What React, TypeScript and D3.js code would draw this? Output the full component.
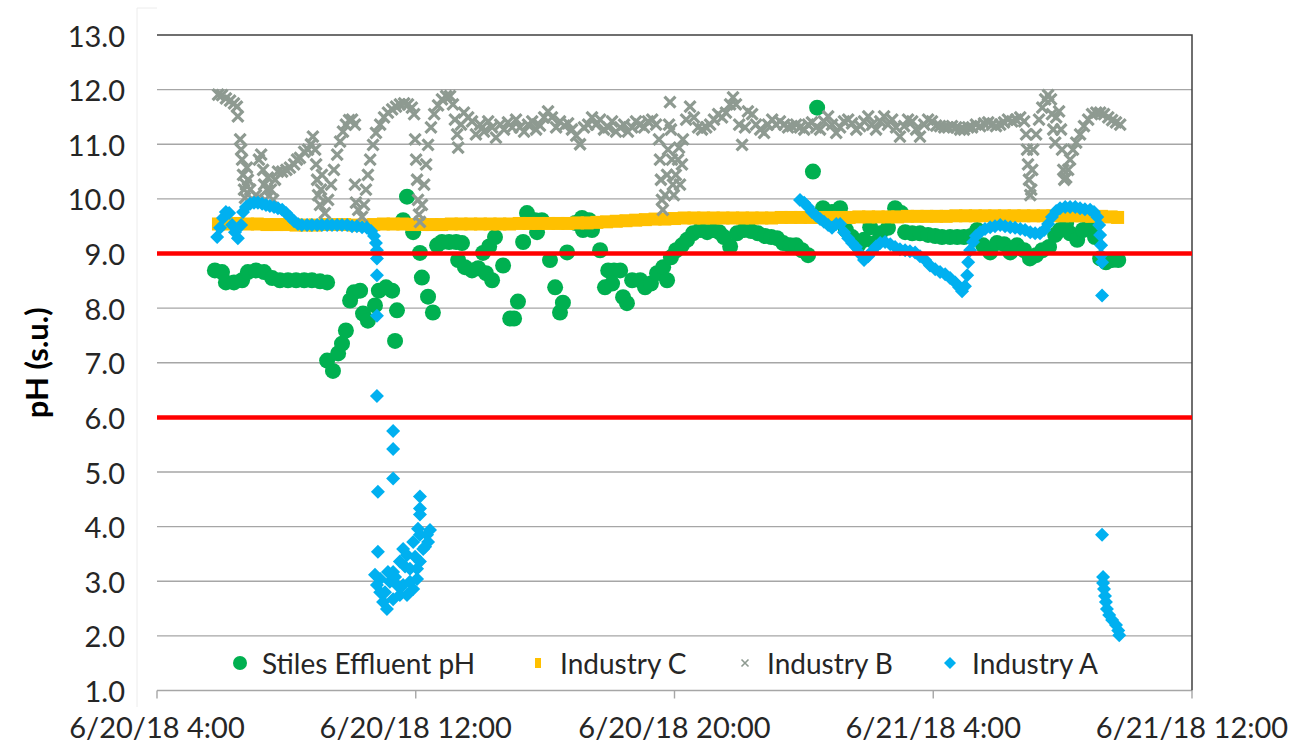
import { useEffect, useRef } from "react";
import * as d3 from "d3";

// hours after 6/20/18 4:00
const START = new Date(2018, 5, 20, 4, 0);
const xTickHours = [0, 8, 16, 24, 32];
const yTicks = [1, 2, 3, 4, 5, 6, 7, 8, 9, 10, 11, 12, 13];
const limitLines = [9.0, 6.0];
const legendLabels = ["Stiles Effluent pH", "Industry C", "Industry B", "Industry A"];

// [hour, pH]
const stilesEffluent = [
  [1.79, 8.69], [2.01, 8.66], [2.13, 8.47], [2.38, 8.47], [2.63, 8.51], [2.81, 8.66], [3.06, 8.69], [3.31, 8.66],
  [3.56, 8.55], [3.8, 8.51], [4.05, 8.51], [4.3, 8.51], [4.55, 8.51], [4.79, 8.51], [5.04, 8.49], [5.26, 8.47],
  [5.26, 7.04], [5.44, 6.85], [5.6, 7.17], [5.72, 7.35], [5.84, 7.59], [5.97, 8.14], [6.09, 8.29], [6.28, 8.32],
  [6.37, 7.9], [6.52, 7.77], [6.74, 8.05], [6.86, 8.32], [7.08, 8.38], [7.27, 8.32], [7.42, 7.96], [7.36, 7.4],
  [7.61, 9.61], [7.73, 10.04], [7.92, 9.39], [8.13, 9.01], [8.19, 8.56], [8.38, 8.21], [8.53, 7.92], [8.66, 9.15],
  [8.81, 9.21], [9.03, 9.21], [9.25, 9.21], [9.43, 9.19], [9.31, 8.88], [9.52, 8.75], [9.74, 8.69], [9.93, 8.73],
  [10.08, 9.01], [10.27, 9.13], [10.45, 9.3], [10.7, 8.78], [10.17, 8.64], [10.36, 8.51], [10.92, 7.81], [11.04, 7.81],
  [11.16, 8.12], [11.32, 9.21], [11.44, 9.74], [11.69, 9.61], [11.9, 9.61], [11.75, 9.39], [12.15, 8.88], [12.31, 8.38],
  [12.46, 7.92], [12.55, 8.1], [12.68, 9.02], [12.93, 9.56], [13.14, 9.65], [13.36, 9.61], [13.17, 9.43], [13.45, 9.43],
  [13.7, 9.06], [13.85, 8.38], [13.95, 8.69], [14.13, 8.69], [14.07, 8.45], [14.32, 8.69], [14.41, 8.2], [14.53, 8.09],
  [14.69, 8.51], [14.94, 8.51], [15.09, 8.38], [15.27, 8.45], [15.46, 8.64], [15.65, 8.75], [15.77, 8.51], [15.89, 8.93],
  [16.05, 9.06], [16.23, 9.15], [16.39, 9.25], [16.57, 9.37], [16.79, 9.43], [17.01, 9.39], [17.19, 9.43], [17.38, 9.39],
  [17.53, 9.3], [17.72, 9.13], [17.93, 9.37], [18.15, 9.43], [18.37, 9.41], [18.58, 9.37], [18.8, 9.32], [18.99, 9.3],
  [19.17, 9.28], [19.36, 9.19], [19.57, 9.15], [19.76, 9.15], [19.94, 9.06], [20.13, 8.97], [20.28, 10.5], [20.41, 11.67],
  [20.59, 9.83], [20.87, 9.76], [21.12, 9.83], [21.3, 9.43], [21.49, 9.3], [21.68, 9.15], [21.86, 9.25], [22.05, 9.48],
  [22.2, 9.19], [22.36, 9.37], [22.6, 9.47], [22.82, 9.83], [23.01, 9.74], [23.13, 9.39], [23.35, 9.37], [23.59, 9.37],
  [23.84, 9.34], [24.06, 9.32], [24.27, 9.3], [24.52, 9.3], [24.74, 9.3], [24.95, 9.3], [25.17, 9.32], [25.36, 9.43],
  [25.54, 9.15], [25.76, 9.02], [25.97, 9.19], [26.19, 9.17], [26.38, 9.02], [26.59, 9.15], [26.81, 9.06], [26.99, 8.91],
  [27.18, 8.97], [27.37, 9.06], [27.58, 9.12], [27.77, 9.34], [27.92, 9.43], [28.11, 9.56], [28.23, 9.37], [28.45, 9.25],
  [28.63, 9.43], [28.82, 9.48], [29.0, 9.3], [29.16, 8.91], [29.34, 8.84], [29.53, 8.88], [29.72, 8.88],
];

const industryC = [
  [1.9, 9.54], [2.2, 9.54], [2.5, 9.55], [2.8, 9.54], [3.1, 9.54], [3.4, 9.53], [3.7, 9.53], [4.0, 9.53],
  [4.3, 9.52], [4.6, 9.52], [4.9, 9.52], [5.2, 9.53], [5.5, 9.53], [5.8, 9.53], [6.1, 9.52], [6.4, 9.52],
  [6.7, 9.53], [7.0, 9.54], [7.3, 9.54], [7.6, 9.54], [7.9, 9.53], [8.2, 9.53], [8.5, 9.53], [8.8, 9.53],
  [9.1, 9.54], [9.4, 9.54], [9.7, 9.54], [10.0, 9.54], [10.3, 9.54], [10.6, 9.54], [10.9, 9.54], [11.2, 9.55],
  [11.5, 9.55], [11.8, 9.55], [12.1, 9.55], [12.4, 9.55], [12.7, 9.55], [13.0, 9.56], [13.3, 9.56], [13.6, 9.57],
  [13.9, 9.58], [14.2, 9.59], [14.5, 9.6], [14.8, 9.61], [15.1, 9.62], [15.4, 9.63], [15.7, 9.63], [16.0, 9.64],
  [16.3, 9.65], [16.6, 9.65], [16.9, 9.65], [17.2, 9.65], [17.5, 9.65], [17.8, 9.65], [18.1, 9.65], [18.4, 9.65],
  [18.7, 9.65], [19.0, 9.65], [19.3, 9.66], [19.6, 9.66], [19.9, 9.66], [20.2, 9.66], [20.5, 9.66], [20.8, 9.66],
  [21.1, 9.66], [21.4, 9.66], [21.7, 9.67], [22.0, 9.67], [22.3, 9.67], [22.6, 9.67], [22.9, 9.67], [23.2, 9.68],
  [23.5, 9.68], [23.8, 9.68], [24.1, 9.68], [24.4, 9.68], [24.7, 9.69], [25.0, 9.69], [25.3, 9.69], [25.6, 9.69],
  [25.9, 9.69], [26.2, 9.69], [26.5, 9.69], [26.8, 9.69], [27.1, 9.69], [27.4, 9.69], [27.7, 9.69], [28.0, 9.69],
  [28.3, 9.69], [28.6, 9.69], [28.9, 9.68], [29.2, 9.68], [29.5, 9.67], [29.7, 9.66],
];

const industryB = [
  [1.89, 11.91], [2.01, 11.9], [2.13, 11.84], [2.26, 11.8], [2.38, 11.75], [2.47, 11.69], [2.5, 11.51],
  [2.57, 11.09], [2.6, 10.9], [2.63, 10.72], [2.66, 10.44], [2.69, 10.17], [2.72, 10.02], [2.75, 10.26], [2.78, 10.57],
  [2.81, 10.35], [2.88, 10.17], [2.97, 9.98], [3.06, 10.07], [3.15, 10.72], [3.22, 10.81], [3.28, 10.53], [3.31, 10.26],
  [3.34, 9.98], [3.4, 10.17], [3.43, 10.39], [3.52, 10.17], [3.59, 9.98], [3.65, 10.35], [3.74, 10.5], [3.87, 10.5],
  [4.0, 10.53], [4.11, 10.57], [4.24, 10.63], [4.33, 10.72], [4.42, 10.75], [4.55, 10.86], [4.67, 10.9], [4.76, 11.0],
  [4.82, 11.14], [4.89, 10.9], [4.92, 10.63], [4.95, 10.35], [4.98, 10.07], [5.04, 9.89], [5.07, 10.17], [5.1, 10.44],
  [5.19, 9.74], [5.29, 9.98], [5.38, 10.26], [5.47, 10.53], [5.57, 10.81], [5.66, 11.05], [5.75, 11.23], [5.84, 11.36],
  [5.94, 11.44], [6.03, 11.45], [6.12, 11.36], [6.12, 10.26], [6.15, 9.93], [6.22, 9.8], [6.34, 9.67], [6.4, 9.89],
  [6.46, 10.17], [6.52, 10.44], [6.59, 10.72], [6.68, 10.99], [6.77, 11.21], [6.9, 11.36], [7.02, 11.49], [7.14, 11.58],
  [7.27, 11.64], [7.39, 11.69], [7.51, 11.73], [7.64, 11.75], [7.76, 11.73], [7.88, 11.67], [7.95, 11.55], [7.98, 11.09],
  [8.01, 10.72], [8.04, 10.35], [8.07, 9.98], [8.1, 9.71], [8.13, 9.58], [8.19, 9.89], [8.26, 10.26], [8.32, 10.63],
  [8.38, 10.99], [8.47, 11.31], [8.57, 11.55], [8.69, 11.71], [8.81, 11.82], [8.94, 11.88], [9.06, 11.88], [9.15, 11.73],
  [9.21, 11.45], [9.28, 11.18], [9.31, 10.94], [9.4, 11.36], [9.49, 11.58], [9.62, 11.49], [9.74, 11.42], [9.86, 11.18],
  [9.99, 11.36], [10.11, 11.23], [10.24, 11.42], [10.36, 11.31], [10.48, 11.12], [10.61, 11.36], [10.73, 11.27], [10.85, 11.4],
  [10.98, 11.31], [11.1, 11.45], [11.22, 11.31], [11.35, 11.23], [11.47, 11.36], [11.6, 11.42], [11.72, 11.27], [11.84, 11.34],
  [11.97, 11.49], [12.09, 11.6], [12.21, 11.49], [12.34, 11.31], [12.46, 11.42], [12.59, 11.34], [12.71, 11.38], [12.83, 11.27],
  [12.96, 11.16], [13.08, 11.0], [13.2, 11.31], [13.33, 11.36], [13.45, 11.49], [13.57, 11.36], [13.7, 11.45], [13.82, 11.27],
  [13.95, 11.31], [14.07, 11.42], [14.19, 11.23], [14.32, 11.31], [14.44, 11.36], [14.56, 11.23], [14.69, 11.31], [14.81, 11.42],
  [14.93, 11.36], [15.06, 11.31], [15.18, 11.42], [15.31, 11.45], [15.43, 11.36], [15.52, 11.09], [15.55, 10.72], [15.58, 10.35],
  [15.61, 9.98], [15.64, 9.8], [15.71, 10.07], [15.77, 10.44], [15.8, 10.9], [15.83, 11.36], [15.86, 11.77], [15.89, 11.27],
  [15.92, 10.72], [15.95, 10.26], [15.98, 10.07], [16.04, 10.44], [16.11, 10.72], [16.14, 10.94], [16.17, 10.26], [16.23, 10.63],
  [16.26, 11.09], [16.36, 11.45], [16.48, 11.69], [16.6, 11.49], [16.73, 11.31], [16.85, 11.27], [16.98, 11.31], [17.1, 11.36],
  [17.22, 11.45], [17.35, 11.55], [17.47, 11.49], [17.59, 11.58], [17.72, 11.73], [17.81, 11.86], [17.9, 11.73], [18.0, 11.36],
  [18.09, 10.99], [18.18, 11.31], [18.27, 11.6], [18.4, 11.55], [18.52, 11.36], [18.65, 11.27], [18.77, 11.21], [18.89, 11.36],
  [19.02, 11.45], [19.14, 11.36], [19.26, 11.42], [19.39, 11.36], [19.51, 11.31], [19.63, 11.33], [19.76, 11.36], [19.88, 11.31],
  [20.01, 11.27], [20.13, 11.36], [20.25, 11.4], [20.38, 11.31], [20.5, 11.27], [20.62, 11.42], [20.75, 11.51], [20.87, 11.36],
  [21.0, 11.21], [21.12, 11.31], [21.24, 11.42], [21.37, 11.45], [21.49, 11.38], [21.62, 11.27], [21.74, 11.33], [21.86, 11.42],
  [21.99, 11.51], [22.11, 11.36], [22.23, 11.27], [22.36, 11.42], [22.48, 11.51], [22.6, 11.36], [22.73, 11.45], [22.85, 11.31],
  [22.97, 11.14], [23.1, 11.33], [23.22, 11.45], [23.35, 11.42], [23.47, 11.27], [23.59, 11.14], [23.72, 11.36], [23.84, 11.45],
  [23.96, 11.42], [24.09, 11.34], [24.21, 11.33], [24.34, 11.31], [24.46, 11.31], [24.58, 11.33], [24.71, 11.31], [24.83, 11.27],
  [24.95, 11.27], [25.08, 11.31], [25.2, 11.31], [25.32, 11.36], [25.45, 11.33], [25.57, 11.38], [25.7, 11.4], [25.82, 11.36],
  [25.94, 11.33], [26.07, 11.36], [26.19, 11.4], [26.31, 11.45], [26.44, 11.42], [26.56, 11.45], [26.69, 11.49], [26.81, 11.42],
  [26.87, 11.18], [26.9, 10.9], [26.93, 10.63], [26.96, 10.35], [27.0, 10.07], [27.03, 10.17], [27.06, 10.53], [27.09, 10.9],
  [27.18, 11.18], [27.27, 11.45], [27.37, 11.67], [27.46, 11.82], [27.55, 11.9], [27.64, 11.82], [27.67, 11.55], [27.71, 11.27],
  [27.77, 11.03], [27.8, 11.49], [27.89, 11.6], [27.95, 11.27], [27.98, 10.9], [28.02, 10.53], [28.05, 10.35], [28.11, 10.39],
  [28.17, 10.53], [28.23, 10.72], [28.32, 10.9], [28.42, 11.03], [28.54, 11.18], [28.66, 11.33], [28.79, 11.45], [28.91, 11.55],
  [29.04, 11.58], [29.16, 11.58], [29.28, 11.55], [29.41, 11.49], [29.53, 11.44], [29.65, 11.4], [29.78, 11.36],
];

const industryA = [
  [1.86, 9.3], [1.95, 9.47], [2.04, 9.65], [2.13, 9.76], [2.23, 9.74], [2.32, 9.52], [2.41, 9.39], [2.5, 9.28],
  [2.6, 9.52], [2.66, 9.76], [2.75, 9.85], [2.88, 9.91], [3.0, 9.93], [3.12, 9.93], [3.25, 9.91], [3.37, 9.89],
  [3.49, 9.87], [3.62, 9.85], [3.74, 9.83], [3.87, 9.8], [3.99, 9.74], [4.11, 9.67], [4.24, 9.59], [4.36, 9.54],
  [4.48, 9.52], [4.64, 9.52], [4.79, 9.52], [4.95, 9.52], [5.1, 9.52], [5.26, 9.52], [5.41, 9.52], [5.57, 9.52],
  [5.72, 9.52], [5.88, 9.52], [6.03, 9.5], [6.18, 9.5], [6.34, 9.48], [6.49, 9.47], [6.62, 9.41], [6.71, 9.32],
  [6.77, 9.19], [6.8, 9.06], [6.8, 8.91], [6.8, 8.6], [6.8, 7.86], [6.8, 6.39], [7.3, 5.75], [7.3, 5.42],
  [7.3, 4.88], [6.83, 4.64], [8.13, 4.55], [8.13, 4.33], [8.13, 4.22], [8.07, 3.96], [6.83, 3.54], [6.74, 3.12],
  [6.8, 2.93], [6.9, 3.04], [6.9, 2.8], [6.99, 2.62], [7.11, 2.49], [7.2, 2.99], [7.3, 2.67], [7.3, 3.17],
  [7.42, 2.93], [7.51, 2.75], [7.51, 3.36], [7.61, 3.59], [7.61, 2.93], [7.73, 3.48], [7.73, 2.75], [7.82, 3.23],
  [7.82, 2.99], [7.92, 2.86], [7.92, 3.72], [8.04, 3.23], [8.04, 3.04], [8.13, 3.36], [8.13, 3.85], [8.23, 3.59],
  [8.35, 3.85], [8.38, 3.72], [7.05, 2.8], [7.36, 3.08], [7.67, 3.27], [7.98, 3.45], [8.29, 3.63], [7.14, 3.17],
  [8.44, 3.94],
  [19.88, 9.98], [20.01, 9.93], [20.13, 9.85], [20.25, 9.76], [20.38, 9.69], [20.5, 9.63], [20.62, 9.58], [20.75, 9.52],
  [20.87, 9.47], [21.0, 9.54], [21.12, 9.54], [21.24, 9.39], [21.37, 9.28], [21.49, 9.19], [21.61, 9.12], [21.74, 8.99],
  [21.86, 8.88], [21.99, 8.95], [22.11, 9.04], [22.23, 9.13], [22.36, 9.19], [22.51, 9.21], [22.67, 9.17], [22.82, 9.12],
  [22.97, 9.08], [23.13, 9.06], [23.28, 9.04], [23.44, 9.02], [23.59, 8.95], [23.75, 8.88], [23.9, 8.78], [24.06, 8.71],
  [24.21, 8.66], [24.37, 8.62], [24.52, 8.55], [24.68, 8.47], [24.8, 8.38], [24.89, 8.31], [24.98, 8.4], [25.05, 8.6],
  [25.08, 8.84], [25.14, 9.06], [25.23, 9.21], [25.32, 9.32], [25.45, 9.39], [25.6, 9.45], [25.76, 9.48], [25.91, 9.5],
  [26.07, 9.52], [26.22, 9.5], [26.38, 9.48], [26.53, 9.47], [26.69, 9.45], [26.84, 9.43], [27.0, 9.39], [27.15, 9.37],
  [27.3, 9.37], [27.43, 9.43], [27.55, 9.54], [27.67, 9.67], [27.8, 9.78], [27.92, 9.83], [28.08, 9.85], [28.23, 9.85],
  [28.39, 9.85], [28.54, 9.83], [28.69, 9.81], [28.85, 9.8], [28.97, 9.76], [29.07, 9.67], [29.13, 9.52], [29.16, 9.34],
  [29.19, 9.15], [29.19, 8.97], [29.22, 8.84], [29.22, 8.23], [29.22, 3.85], [29.25, 3.08], [29.25, 2.97], [29.28, 2.86],
  [29.31, 2.73], [29.34, 2.62], [29.37, 2.49], [29.44, 2.38], [29.53, 2.29], [29.65, 2.2], [29.72, 2.1], [29.75, 2.01],
];

const W = 1302;
const H = 748;
const FONT = "Lato, 'Open Sans', sans-serif";
const GREEN = "#00b050";
const ORANGE = "#ffc000";
const GRAY = "#8e9a91";
const BLUE = "#00b0f0";

const toDate = (h) => new Date(START.getTime() + h * 3600 * 1000);

const App = () => {
  const ref = useRef(null);

  useEffect(() => {
    const svg = d3.select(ref.current);
    svg.selectAll("*").remove();

    const margin = { top: 35, right: 110, bottom: 57.5, left: 157 };
    const x = d3
      .scaleTime()
      .domain([toDate(0), toDate(32)])
      .range([margin.left, W - margin.right]);
    const y = d3
      .scaleLinear()
      .domain([1, 13])
      .range([H - margin.bottom, margin.top]);

    svg.append("rect").attr("width", W).attr("height", H).attr("fill", "#fff");

    // faint frame of the axis area
    svg
      .append("path")
      .attr("d", `M137,707V8H157`)
      .attr("fill", "none")
      .attr("stroke", "#ececec")
      .attr("stroke-width", 1);

    // gridlines
    svg
      .append("g")
      .selectAll("line")
      .data(yTicks.slice(0, -1))
      .join("line")
      .attr("x1", margin.left)
      .attr("x2", W - margin.right)
      .attr("y1", (d) => y(d))
      .attr("y2", (d) => y(d))
      .attr("stroke", "#a6a6a6")
      .attr("stroke-width", 1.4);

    // top + right border
    svg
      .append("path")
      .attr("d", `M${margin.left},${y(13)}H${W - margin.right}V${y(1)}`)
      .attr("fill", "none")
      .attr("stroke", "#404040")
      .attr("stroke-width", 1.5);

    // x tick marks + labels
    const fmt = d3.timeFormat("%-m/%-d/%y %-H:%M");
    const xt = svg.append("g");
    xt.selectAll("line")
      .data(xTickHours)
      .join("line")
      .attr("x1", (d) => x(toDate(d)))
      .attr("x2", (d) => x(toDate(d)))
      .attr("y1", y(1))
      .attr("y2", y(1) + 8)
      .attr("stroke", "#a6a6a6")
      .attr("stroke-width", 1.4);
    xt.selectAll("text")
      .data(xTickHours)
      .join("text")
      .attr("x", (d) => x(toDate(d)))
      .attr("y", 726)
      .attr("text-anchor", "middle")
      .attr("dominant-baseline", "central")
      .attr("font-family", FONT)
      .attr("font-size", 29)
      .attr("fill", "#262626")
      .text((d) => fmt(toDate(d)));

    // y labels
    svg
      .append("g")
      .selectAll("text")
      .data(yTicks)
      .join("text")
      .attr("x", 125)
      .attr("y", (d) => y(d))
      .attr("text-anchor", "end")
      .attr("dominant-baseline", "central")
      .attr("font-family", FONT)
      .attr("font-size", 29)
      .attr("fill", "#262626")
      .text((d) => d.toFixed(1));

    svg
      .append("text")
      .attr("transform", `translate(36,${y(7)}) rotate(-90)`)
      .attr("text-anchor", "middle")
      .attr("dominant-baseline", "central")
      .attr("font-family", FONT)
      .attr("font-weight", "bold")
      .attr("font-size", 31)
      .attr("fill", "#000")
      .text("pH (s.u.)");

    const px = (d) => x(toDate(d[0]));
    const py = (d) => y(d[1]);

    // Stiles effluent
    svg
      .append("g")
      .selectAll("circle")
      .data(stilesEffluent)
      .join("circle")
      .attr("cx", px)
      .attr("cy", py)
      .attr("r", 8)
      .attr("fill", GREEN);

    // Industry C
    svg
      .append("g")
      .selectAll("rect")
      .data(industryC)
      .join("rect")
      .attr("x", (d) => px(d) - 6.5)
      .attr("y", (d) => py(d) - 6.5)
      .attr("width", 13)
      .attr("height", 13)
      .attr("fill", ORANGE);

    // Industry B
    svg
      .append("g")
      .selectAll("path")
      .data(industryB)
      .join("path")
      .attr("transform", (d) => `translate(${px(d)},${py(d)})`)
      .attr("d", "M-5.5,-5.5L5.5,5.5M5.5,-5.5L-5.5,5.5")
      .attr("stroke", GRAY)
      .attr("stroke-width", 3.2)
      .attr("fill", "none");

    // Industry A
    svg
      .append("g")
      .selectAll("path")
      .data(industryA)
      .join("path")
      .attr("transform", (d) => `translate(${px(d)},${py(d)})`)
      .attr("d", "M0,-7L7,0L0,7L-7,0Z")
      .attr("fill", BLUE);

    // limit lines
    svg
      .append("g")
      .selectAll("line")
      .data(limitLines)
      .join("line")
      .attr("x1", margin.left)
      .attr("x2", W - margin.right)
      .attr("y1", (d) => y(d))
      .attr("y2", (d) => y(d))
      .attr("stroke", "#ff0000")
      .attr("stroke-width", 4.5);

    // legend
    const legendX = [240, 538, 745, 950];
    const lg = svg.append("g").attr("transform", "translate(0,663)");
    legendLabels.forEach((label, i) => {
      const g = lg.append("g").attr("transform", `translate(${legendX[i]},0)`);
      if (i === 0) g.append("circle").attr("r", 7).attr("fill", GREEN);
      if (i === 1) g.append("rect").attr("x", -3).attr("y", -5).attr("width", 6).attr("height", 10).attr("fill", ORANGE);
      if (i === 2)
        g.append("path").attr("d", "M-3.5,-3.5L3.5,3.5M3.5,-3.5L-3.5,3.5").attr("stroke", GRAY).attr("stroke-width", 1.6);
      if (i === 3) g.append("path").attr("d", "M0,-6L6,0L0,6L-6,0Z").attr("fill", BLUE);
      g.append("text")
        .attr("x", 22)
        .attr("dominant-baseline", "central")
        .attr("font-family", FONT)
        .attr("font-size", 28)
        .attr("fill", "#262626")
        .text(label);
    });
  }, []);

  return (
    <svg
      ref={ref}
      width={W}
      height={H}
      style={{ position: "absolute", left: 0, top: 0 }}
    ></svg>
  );
};

export default App;
